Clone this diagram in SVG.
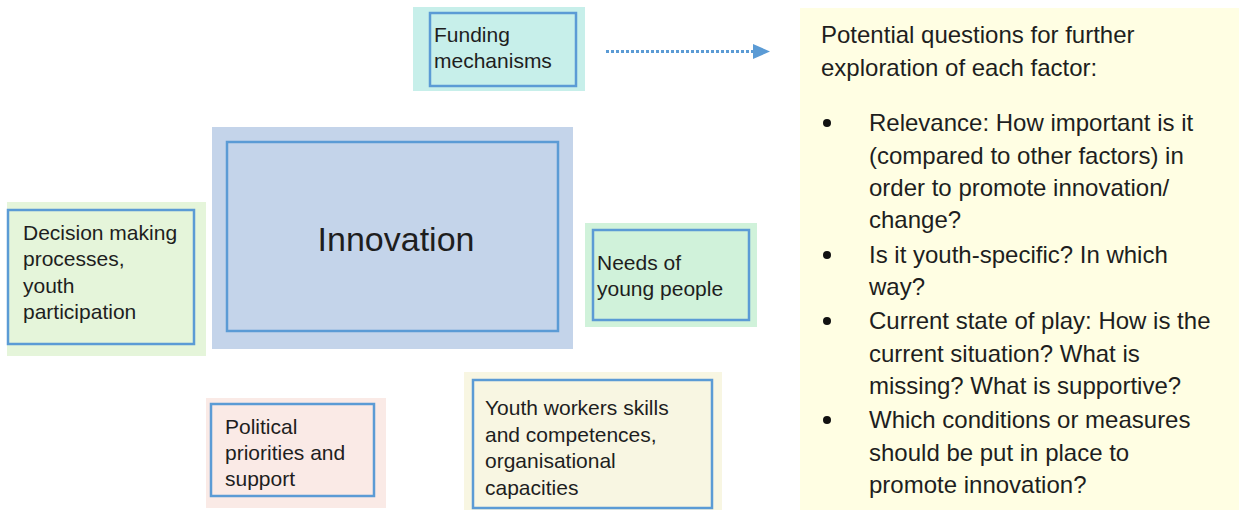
<svg xmlns="http://www.w3.org/2000/svg" width="1239" height="510" viewBox="0 0 1239 510">
<style>
.frame{fill:none;stroke:#5B9BD5;stroke-width:2.5}
.t{font-family:"Liberation Sans",Arial,sans-serif;fill:#1e1e1e}
.bx{font-size:21px}
.pn{font-size:24px}
</style>
<defs>
<marker id="ah" viewBox="0 0 10 10" refX="0" refY="5" markerWidth="17" markerHeight="15" markerUnits="userSpaceOnUse" orient="auto" preserveAspectRatio="none">
<path d="M0,0 L10,5 L0,10 Z" fill="#5B9BD5"/>
</marker>
</defs>
<rect width="1239" height="510" fill="#ffffff"/>

<g id="panel">
<rect x="800" y="8" width="439" height="502" fill="#FFFEE3"/>
<text class="t pn" x="821" y="43">Potential questions for further</text>
<text class="t pn" x="821" y="76">exploration of each factor:</text>
<circle cx="827" cy="123" r="4" fill="#111"/>
<circle cx="827" cy="255" r="4" fill="#111"/>
<circle cx="827" cy="321" r="4" fill="#111"/>
<circle cx="827" cy="420" r="4" fill="#111"/>
<text class="t pn" x="869" y="131">Relevance: How important is it</text>
<text class="t pn" x="869" y="164">(compared to other factors) in</text>
<text class="t pn" x="869" y="196">order to promote innovation/</text>
<text class="t pn" x="869" y="228">change?</text>
<text class="t pn" x="869" y="263">Is it youth-specific? In which</text>
<text class="t pn" x="869" y="295">way?</text>
<text class="t pn" x="869" y="329">Current state of play: How is the</text>
<text class="t pn" x="869" y="362">current situation? What is</text>
<text class="t pn" x="869" y="394">missing? What is supportive?</text>
<text class="t pn" x="869" y="428">Which conditions or measures</text>
<text class="t pn" x="869" y="461">should be put in place to</text>
<text class="t pn" x="869" y="493">promote innovation?</text>
</g>

<g id="funding">
<rect x="413" y="7" width="172" height="84" fill="#C7EFEA"/>
<rect class="frame" x="430" y="13" width="146" height="73"/>
<text class="t bx" x="434" y="42">Funding</text>
<text class="t bx" x="434" y="68">mechanisms</text>
</g>

<g id="innovation">
<rect x="212" y="127" width="361" height="222" fill="#C4D4EA"/>
<rect class="frame" x="227" y="142" width="331" height="189"/>
<text class="t" x="396" y="251" font-size="34" text-anchor="middle">Innovation</text>
</g>

<g id="decision">
<rect x="7" y="202" width="199" height="154" fill="#E5F5DA"/>
<rect class="frame" x="8" y="210" width="186" height="134"/>
<text class="t bx" x="23" y="240">Decision making</text>
<text class="t bx" x="23" y="266">processes,</text>
<text class="t bx" x="23" y="293">youth</text>
<text class="t bx" x="23" y="319">participation</text>
</g>

<g id="needs">
<rect x="585" y="223" width="172" height="104" fill="#D0F2DA"/>
<rect class="frame" x="593" y="230" width="156" height="90"/>
<text class="t bx" x="597" y="270">Needs of</text>
<text class="t bx" x="597" y="296">young people</text>
</g>

<g id="political">
<rect x="206" y="398" width="180" height="110" fill="#FAEAE6"/>
<rect class="frame" x="211" y="404" width="163" height="92"/>
<text class="t bx" x="225" y="434">Political</text>
<text class="t bx" x="225" y="460">priorities and</text>
<text class="t bx" x="225" y="486">support</text>
</g>

<g id="youthworkers">
<rect x="464" y="372" width="258" height="138" fill="#F8F6E2"/>
<rect class="frame" x="473" y="380" width="239" height="128"/>
<text class="t bx" x="485" y="415">Youth workers skills</text>
<text class="t bx" x="485" y="442">and competences,</text>
<text class="t bx" x="485" y="468">organisational</text>
<text class="t bx" x="485" y="495">capacities</text>
</g>

<g id="connectors">
<line x1="606" y1="51.5" x2="753" y2="51.5" stroke="#5B9BD5" stroke-width="3" stroke-dasharray="3,2" marker-end="url(#ah)"/>
</g>
</svg>
